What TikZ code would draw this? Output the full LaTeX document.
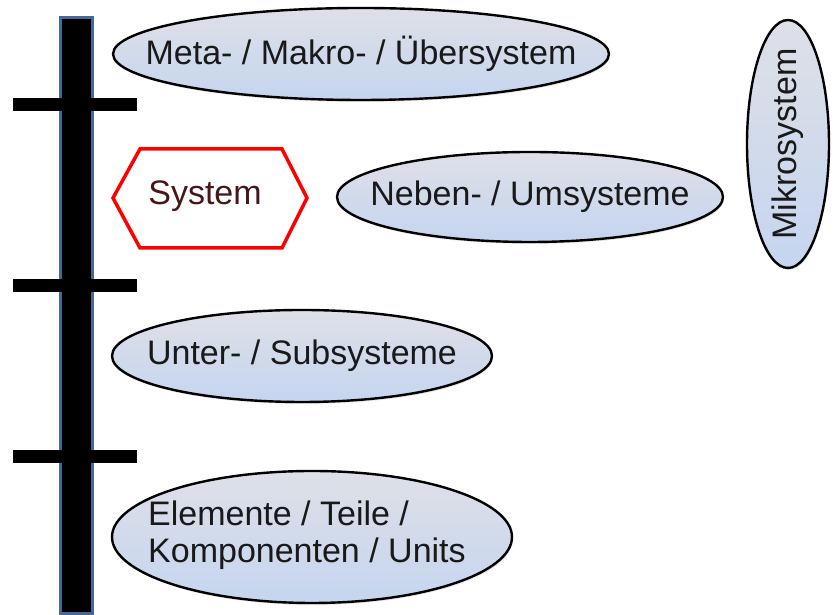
\documentclass[tikz,border=0pt]{standalone}
\usepackage{fontspec}
\setmainfont{Liberation Sans}
\usepackage{tikz}
\usetikzlibrary{shapes,shadows,positioning}

\definecolor{BubbleTop}{RGB}{222,224,230}
\definecolor{BubbleBot}{RGB}{197,213,240}
\definecolor{BarEdge}{RGB}{70,104,150}
\definecolor{SysText}{RGB}{72,22,22}

\begin{document}
\begin{tikzpicture}[x=1pt, y=1pt]
			\tikzstyle{Bubble}	= [ellipse, draw=black, line width=2.4pt, top color=BubbleTop, bottom color=BubbleBot, inner sep=0pt, drop shadow={opacity=0.2, shadow xshift=1pt, shadow yshift=-2pt}]
			\tikzstyle{Label}	= [font=\fontsize{34}{37}\selectfont, text=black!90, inner sep=0pt]
			\tikzstyle{Rung}	= [rectangle, fill=black, minimum width=124pt, minimum height=13pt, inner sep=0pt]
			\tikzstyle{Pole}	= [rectangle, fill=black, draw=BarEdge, line width=3pt, minimum width=32pt, minimum height=596pt, inner sep=0pt]
			\tikzstyle{Hex}		= [draw=red, line width=3.5pt, line join=miter]

			\useasboundingbox (0, 0) rectangle (836, 615);

			% the level scale on the left
			\node (pole) at (76, 299) [Pole] {};
			\node (r1) at (75, 510) [Rung] {};
			\node (r2) at (75, 329) [Rung] {};
			\node (r3) at (75, 158) [Rung] {};

			% the system itself
			\draw [Hex] (113, 417) -- (140, 466) -- (282, 466) -- (307, 417) -- (282, 367) -- (140, 367) -- cycle;
			\node (sys) at (205, 419) [Label, text=SysText] {System};

			% levels around it
			\node (meta) at (361, 561) [Bubble, minimum width=496pt, minimum height=92pt] {};
			\node at (meta) [Label] {Meta- / Makro- / Übersystem};

			\node (neben) at (530, 418) [Bubble, minimum width=386pt, minimum height=90pt] {};
			\node at (neben) [Label] {Neben- / Umsysteme};

			\node (mikro) at (788, 471) [Bubble, minimum width=82pt, minimum height=248pt] {};
			\node at (mikro) [Label, rotate=90] {Mikrosystem};

			\node (unter) at (302, 259) [Bubble, minimum width=380pt, minimum height=92pt] {};
			\node at (unter) [Label] {Unter- / Subsysteme};

			\node (elem) at (312, 78) [Bubble, minimum width=400pt, minimum height=132pt] {};
			\node at (148, 80) [Label, anchor=west, align=left] {Elemente / Teile /\\Komponenten / Units};
		\end{tikzpicture}
\end{document}
